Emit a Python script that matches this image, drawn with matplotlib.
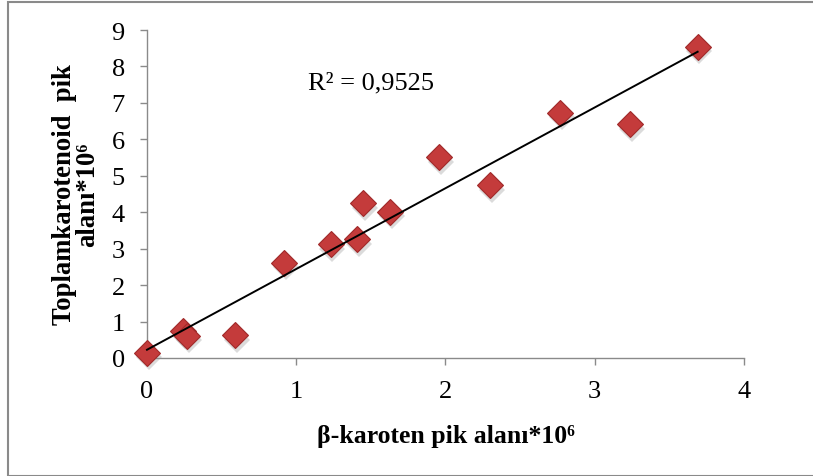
import numpy as np
import matplotlib
matplotlib.use("Agg")
import matplotlib.pyplot as plt
from matplotlib.patches import Rectangle

# data
beta_karoten = [0.00, 0.24, 0.27, 0.59, 0.92, 1.23, 1.41, 1.45, 1.63, 1.96, 2.30, 2.77, 3.24, 3.69]
toplam_karotenoid = [0.14, 0.73, 0.60, 0.62, 2.61, 3.12, 3.26, 4.24, 4.01, 5.51, 4.74, 6.72, 6.41, 8.54]
x_ticks = [0, 1, 2, 3, 4]
y_ticks = [0, 1, 2, 3, 4, 5, 6, 7, 8, 9]
r2_text = "R² = 0,9525"
x_label = "β-karoten pik alanı*10⁶"
y_label = "Toplamkarotenoid  pik\nalanı*10⁶"

plt.rcParams['font.family'] = ['Liberation Serif', 'DejaVu Serif']

fig = plt.figure(figsize=(8.13, 4.77), dpi=100)
ax = fig.add_axes([0.1808, 0.2474, 0.7342, 0.6876])

x = np.array(beta_karoten)
y = np.array(toplam_karotenoid)

# shadow + markers
ax.plot(x + 0.012, y - 0.12, linestyle='none', marker='D', markersize=13.2,
        color='#9a9a9a', alpha=0.35, markeredgewidth=0, zorder=2, clip_on=False)
ax.plot(x, y, linestyle='none', marker='D', markersize=13.2,
        markerfacecolor='#C43B3B', markeredgecolor='#A02A2A', markeredgewidth=0.8,
        zorder=3, clip_on=False)

# linear trend line
m, b = np.polyfit(x, y, 1)
xs = np.array([x.min(), x.max()])
ax.plot(xs, m * xs + b, color='black', linewidth=1.4, zorder=4, clip_on=False)

ax.text(1.50, 7.57, r2_text, ha='center', va='center', fontsize=19)

ax.set_xlim(0, 4)
ax.set_ylim(0, 9)
ax.set_xticks(x_ticks)
ax.set_yticks(y_ticks)
ax.set_xticklabels([str(t) for t in x_ticks])
ax.set_yticklabels([str(t) for t in y_ticks])

for s in ['top', 'right']:
    ax.spines[s].set_visible(False)
for s in ['left', 'bottom']:
    ax.spines[s].set_color('#8a8a8a')
    ax.spines[s].set_linewidth(1.0)
ax.tick_params(axis='both', direction='out', length=5, width=1.0, color='#8a8a8a',
               labelsize=19)
ax.tick_params(axis='x', pad=11)
ax.tick_params(axis='y', pad=11)

ax.set_xlabel(x_label, fontsize=18.5, fontweight='bold', labelpad=16)
ax.set_ylabel(y_label, fontsize=19.2, fontweight='bold', labelpad=8.5, linespacing=0.9)

# figure border
fig.patches.append(Rectangle((8 / 813, 1 - 476.5 / 477), 1.2, (476.5 - 3) / 477,
                             transform=fig.transFigure, fill=False,
                             edgecolor='#8a8a8a', linewidth=1.5))

fig.savefig('out.png', dpi=100)
